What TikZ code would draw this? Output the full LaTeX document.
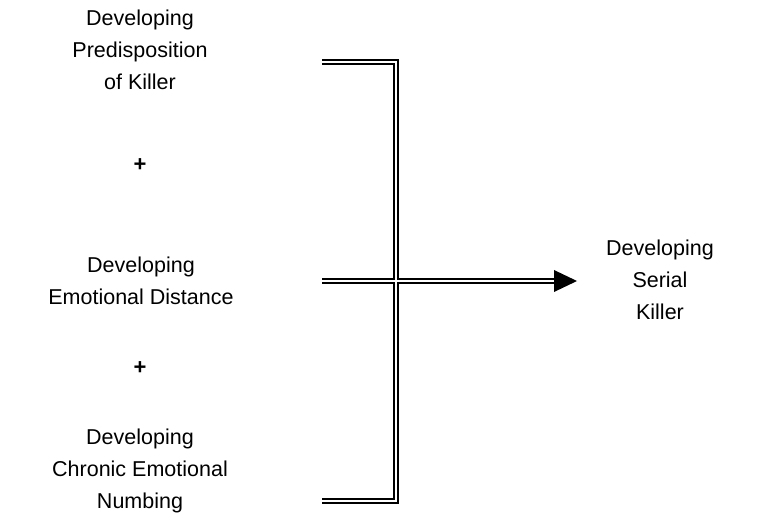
\documentclass[tikz,border=0pt]{standalone}
\usepackage{fontspec}
\setmainfont{Liberation Sans}
\begin{document}
\begin{tikzpicture}[x=1pt,y=-1pt,
  label/.style={align=center,inner sep=0pt,font=\fontsize{21.5}{32}\selectfont},
  plus/.style={inner sep=0pt,font=\fontsize{22}{26}\selectfont\bfseries},
  dbl/.style={draw=black,line width=1.6pt,double=white,double distance=2pt}]
\useasboundingbox (0,0) rectangle (761,513);

% factors on the left
\node[label] (pre) at (140,50) {Developing\\Predisposition\\of Killer};
\node[plus] (plusA) at (140,165) {+};
\node[label] (emo) at (141,281) {Developing\\Emotional Distance};
\node[plus] (plusB) at (140,368) {+};
\node[label] (numb) at (140,471) {Developing\\Chronic Emotional\\Numbing};

% outcome on the right
\node[label] (serial) at (660,280) {Developing\\Serial\\Killer};

% ends of the bracket lines
\coordinate (topL) at (322,62);
\coordinate (topR) at (396,62);
\coordinate (botL) at (322,501);
\coordinate (botR) at (396,501);
\coordinate (midL) at (322,281);
\coordinate (midR) at (554,281);

% bracket and feed line drawn as one double path
\draw[dbl] (topL) -- (topR) -- (botR) -- (botL) (midL) -- (midR);

% arrow head
\fill[black] (midR) ++(0,-11) -- ++(23,11) -- ++(-23,11) -- cycle;
\end{tikzpicture}
\end{document}
